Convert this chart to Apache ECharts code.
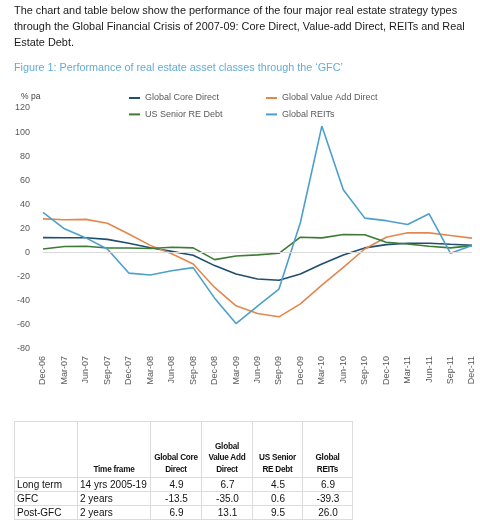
<!DOCTYPE html>
<html><head><meta charset="utf-8">
<script src="https://cdn.jsdelivr.net/npm/echarts@6/dist/echarts.min.js"></script>
<style>
html,body{margin:0;padding:0;background:#fff;width:480px;height:528px;overflow:hidden;font-family:"Liberation Sans",Arial,sans-serif;}
#chart{position:absolute;left:0;top:0;width:480px;height:528px;}
#intro{position:absolute;left:14px;top:2px;font-size:10.9px;line-height:16px;color:#1a1a1a;white-space:nowrap;}
#caption{position:absolute;left:14px;top:59px;font-size:10.8px;line-height:16px;color:#62acd6;white-space:nowrap;}
table{position:absolute;left:14px;top:421px;border-collapse:collapse;color:#111;table-layout:fixed;}
td,th{border:1px solid #dcdcdc;padding:0 1px;}
th{font-size:8.2px;letter-spacing:-0.25px;font-weight:bold;line-height:11.5px;vertical-align:bottom;text-align:center;height:53px;padding-bottom:2px;white-space:nowrap;}
td{font-size:10px;height:13px;line-height:13px;white-space:nowrap;padding-left:2px;}
td.n{text-align:center;}
</style></head>
<body>
<div id="chart"></div>
<div id="intro">The chart and table below show the performance of the four major real estate strategy types<br>through the Global Financial Crisis of 2007-09: Core Direct, Value-add Direct, REITs and Real<br>Estate Debt.</div>
<div id="caption">Figure 1: Performance of real estate asset classes through the ‘GFC’</div>
<table id="tbl"></table>
<script>
const categories = ['Dec-06','Mar-07','Jun-07','Sep-07','Dec-07','Mar-08','Jun-08','Sep-08','Dec-08','Mar-09','Jun-09','Sep-09','Dec-09','Mar-10','Jun-10','Sep-10','Dec-10','Mar-11','Jun-11','Sep-11','Dec-11'];
const coreDirect = [12.4, 12.3, 12.3, 11, 7.8, 4, 1, -2.2, -10.8, -17.8, -21.9, -23, -17.8, -9.4, -1.9, 3.9, 6.6, 7.8, 7.8, 6.9, 6.1];
const valueAdd = [28, 27.2, 27.6, 24.4, 15.5, 6, -1, -9.4, -28.9, -44.2, -50.6, -53.3, -42.5, -27, -12.2, 3, 12.8, 16.4, 16.4, 14.2, 12];
const seniorDebt = [3, 5, 5.3, 3.8, 3.8, 3.4, 4.4, 3.9, -5.8, -2.8, -1.9, -0.6, 12.8, 12.2, 15, 14.8, 8.6, 7.2, 5.3, 3.9, 5.8];
const reits = [33.3, 19.7, 12.2, 3, -17, -18.6, -15, -12.5, -37.8, -58.9, -44.4, -30.3, 25, 105, 52.2, 28.6, 26.5, 23.3, 32.2, -0.6, 5.8];
const yTicks = {min: -80, max: 120, interval: 20};

const tableHeader = ['', 'Time frame', 'Global Core<br>Direct', 'Global<br>Value Add<br>Direct', 'US Senior<br>RE Debt', 'Global<br>REITs'];
const tableRows = [
  ['Long term', '14 yrs 2005-19', '4.9', '6.7', '4.5', '6.9'],
  ['GFC', '2 years', '-13.5', '-35.0', '0.6', '-39.3'],
  ['Post-GFC', '2 years', '6.9', '13.1', '9.5', '26.0']
];
const colWidths = [63, 73, 51, 51, 50, 50];

(function(){
  const t = document.getElementById('tbl');
  let h = '<colgroup>' + colWidths.map(w=>'<col style="width:'+w+'px">').join('') + '</colgroup>';
  h += '<tr>' + tableHeader.map(c=>'<th>'+c+'</th>').join('') + '</tr>';
  tableRows.forEach(r=>{
    h += '<tr>' + r.map((c,i)=>'<td'+(i>=2?' class="n"':'')+'>'+c+'</td>').join('') + '</tr>';
  });
  t.style.width = colWidths.reduce((a,b)=>a+b,0) + 'px';
  t.innerHTML = h;
})();

const chart = echarts.init(document.getElementById('chart'), null, {renderer:'canvas'});
const axisFont = {fontFamily:'Liberation Sans, Arial, sans-serif', fontSize:9, color:'#595959'};
const legendText = {fontFamily:'Liberation Sans, Arial, sans-serif', fontSize:9, color:'#595959', lineHeight:12};
const mk = (name, data, color) => ({
  name, type:'line', data, symbol:'none', smooth:false,
  lineStyle:{color, width:1.6}, itemStyle:{color}
});
chart.setOption({
  animation:false,
  grid:{left:43, right:8, top:108, bottom:179, containLabel:false},
  legend:[
    {data:['Global Core Direct','US Senior RE Debt'], orient:'vertical', left:124, top:88,
     icon:'rect', itemWidth:11, itemHeight:2, itemGap:4.4, padding:[4,5], textStyle:legendText},
    {data:['Global Value Add Direct','Global REITs'], orient:'vertical', left:261, top:88,
     icon:'rect', itemWidth:11, itemHeight:2, itemGap:4.4, padding:[4,5], textStyle:legendText}
  ],
  graphic:[{type:'text', left:21, top:92, style:{text:'% pa', fontFamily:'Liberation Sans, Arial, sans-serif', fontSize:8.5, fill:'#404040'}}],
  xAxis:{type:'category', data:categories, boundaryGap:false,
    axisLine:{show:false}, axisTick:{show:false},
    axisLabel:Object.assign({rotate:90, interval:0, margin:7}, axisFont)},
  yAxis:{type:'value', min:yTicks.min, max:yTicks.max, interval:yTicks.interval,
    axisLine:{show:false}, axisTick:{show:false}, splitLine:{show:false},
    axisLabel:Object.assign({margin:13}, axisFont)},
  series:[
    Object.assign(mk('Global Core Direct', coreDirect, '#1f4e6e'), {
      markLine:{silent:true, symbol:'none', label:{show:false}, animation:false,
        lineStyle:{color:'#d9d9d9', width:1, type:'solid'}, data:[{yAxis:0}]}}),
    mk('Global Value Add Direct', valueAdd, '#e3874f'),
    mk('US Senior RE Debt', seniorDebt, '#3d7a34'),
    mk('Global REITs', reits, '#4d9fcc')
  ]
});
</script>
</body></html>
